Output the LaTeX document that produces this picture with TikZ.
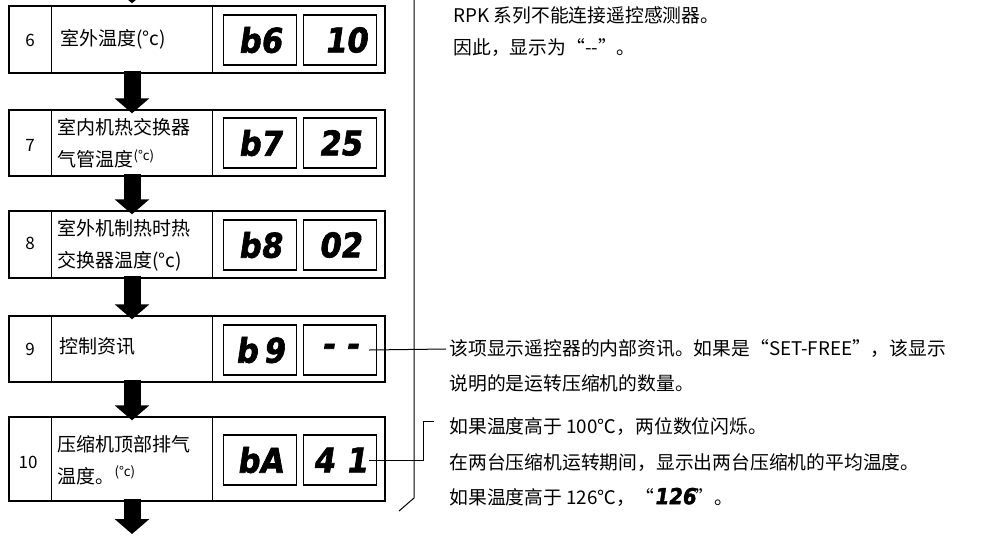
\documentclass[tikz,border=0pt]{standalone}
\usepackage{fontspec}
\setmainfont{Noto Sans CJK SC}
\newfontfamily\segfont[FakeSlant=0.15,FakeBold=2]{DejaVu Sans Condensed}
\usetikzlibrary{arrows.meta}

\tikzset{
  rowbox/.style={draw, line width=1.4pt, minimum width=376pt, inner sep=0pt},
  dispbox/.style={draw, line width=1.4pt, minimum width=73pt, minimum height=50pt, inner sep=0pt,
    font=\segfont\bfseries\fontsize{34}{34}\selectfont},
  numtext/.style={font=\fontsize{17}{17}\selectfont},
  labeltext/.style={font=\fontsize{19}{32}\selectfont, align=left, anchor=west},
  notetext/.style={font=\fontsize{18.8}{18.8}\selectfont, anchor=west},
  fatarrow/.style={line width=17pt, -{Triangle[width=34pt,length=15pt]}},
  leader/.style={line width=1pt}
}

\begin{document}
\begin{tikzpicture}[x=1pt, y=-1pt]
        \useasboundingbox (0,0) rectangle (984,536);

        % Rows
        \node[rowbox, minimum height=67pt] (b6) at (197,39.5) {};
        \node[rowbox, minimum height=66pt] (b7) at (197,143) {};
        \node[rowbox, minimum height=67pt] (b8) at (197,244.5) {};
        \node[rowbox, minimum height=66pt] (b9) at (197,349) {};
        \node[rowbox, minimum height=84pt] (b10) at (197,459) {};

        % Column lines
        \foreach \r in {b6,b7,b8,b9,b10} {
            \draw[line width=1.4pt] ([xshift=43pt]\r.north west) -- ([xshift=43pt]\r.south west);
            \draw[line width=1.4pt] ([xshift=204pt]\r.north west) -- ([xshift=204pt]\r.south west);
        }

        % Numbers and labels
        \node[numtext] (n6) at (30,40) {6};
        \node[numtext] (n7) at (30,145) {7};
        \node[numtext] (n8) at (30,243) {8};
        \node[numtext] (n9) at (30,349) {9};
        \node[numtext] (n10) at (28,462) {10};
        \node[labeltext] (l6) at (57,39) {室外温度(°c)};
        \node[labeltext] (l7) at (54,143) {室内机热交换器\\气管温度\textsuperscript{(°c)}};
        \node[labeltext] (l8) at (54,245) {室外机制热时热\\交换器温度(°c)};
        \node[labeltext] (l9) at (56,346) {控制资讯};
        \node[labeltext] (l10) at (54,460) {压缩机顶部排气\\温度。\textsuperscript{(°c)}};

        % Displays
        \node[dispbox] (d6a) at (260,40) {b6};
        \node[dispbox] (d6b) at (340,40) {\,\,10};
        \node[dispbox] (d7a) at (260,143) {b7};
        \node[dispbox] (d7b) at (340,143) {25};
        \node[dispbox] (d8a) at (260,245) {b8};
        \node[dispbox] (d8b) at (340,245) {02};
        \node[dispbox] (d9a) at (260,350) {b\,9};
        \node[dispbox] (d9b) at (340,350) {-\,\,-};
        \node[dispbox] (d10a) at (260,460) {bA};
        \node[dispbox] (d10b) at (340,460) {4\,\,1};

        % Arrows
        \coordinate (top) at (197,-12);
        \coordinate (bottom) at (197,534);
        \draw[fatarrow] ([xshift=-65pt]top) -- ([xshift=-65pt,yshift=2pt]b6.north);
        \draw[fatarrow] ([xshift=-65pt,yshift=3pt]b6.south) -- ([xshift=-65pt,yshift=-4pt]b7.north);
        \draw[fatarrow] ([xshift=-65pt,yshift=3pt]b7.south) -- ([xshift=-65pt,yshift=-4pt]b8.north);
        \draw[fatarrow] ([xshift=-65pt,yshift=3pt]b8.south) -- ([xshift=-65pt,yshift=-4pt]b9.north);
        \draw[fatarrow] ([xshift=-65pt,yshift=3pt]b9.south) -- ([xshift=-65pt,yshift=-4pt]b10.north);
        \draw[fatarrow] ([xshift=-65pt,yshift=3pt]b10.south) -- ([xshift=-65pt]bottom);

        % Bracket line
        \coordinate (v1) at (414,0);
        \coordinate (v2) at (414,498);
        \coordinate (v3) at (399,511);
        \draw[leader] (v1) -- (v2) -- (v3);

        % Notes
        \node[notetext] (t1) at (450,15) {RPK 系列不能连接遥控感测器。};
        \node[notetext] (t2) at (450,48) {因此，显示为“-{}-”。};
        \node[notetext] (t3) at (446,349) {该项显示遥控器的内部资讯。如果是“SET-FREE”，该显示};
        \node[notetext] (t4) at (446,383) {说明的是运转压缩机的数量。};
        \node[notetext] (t5) at (446,427) {如果温度高于 100℃，两位数位闪烁。};
        \node[notetext] (t6) at (446,463) {在两台压缩机运转期间，显示出两台压缩机的平均温度。};
        \node[notetext] (t7) at (446,497) {如果温度高于 126℃，“{\segfont\bfseries\fontsize{22}{22}\selectfont 126}”。};

        % Leaders
        \coordinate (k1) at (423,460);
        \coordinate (k2) at (423,421);
        \coordinate (k3) at (434,421);
        \draw[leader] ([xshift=-8pt]d9b.east) -- (t3.west);
        \draw[leader] ([xshift=-8pt]d10b.east) -- (k1) -- (k2) -- (k3);
    \end{tikzpicture}
\end{document}
